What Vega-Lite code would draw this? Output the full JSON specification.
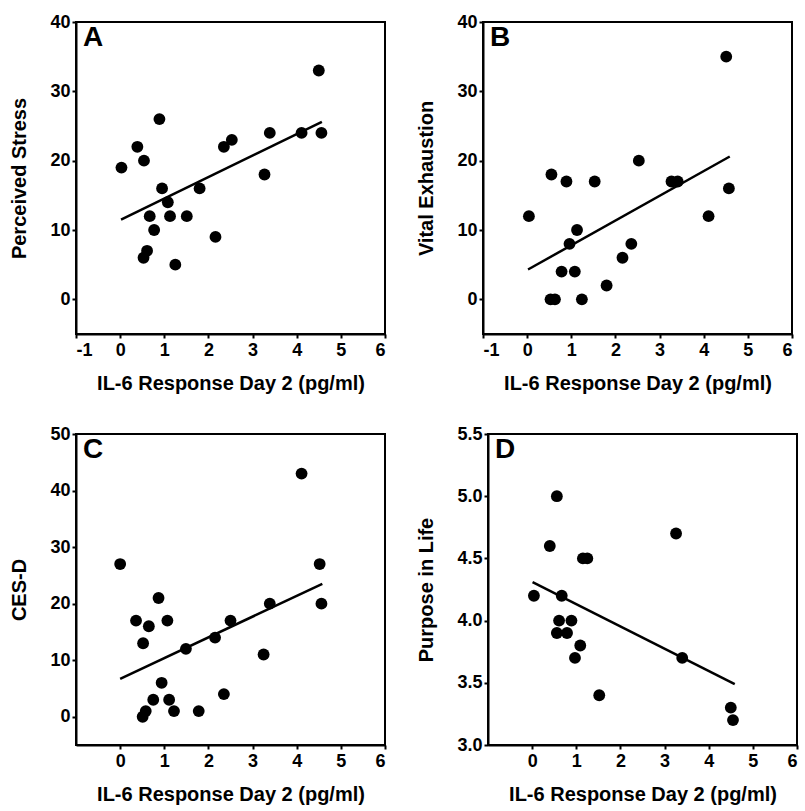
{
  "$schema": "https://vega.github.io/schema/vega-lite/v6.json",
  "padding": {"left": 8, "top": 12, "right": 4, "bottom": 4},
  "background": "white",
  "datasets": {
    "points": [
      {"panel": "A", "il6": 0.03, "score": 19},
      {"panel": "A", "il6": 0.39, "score": 22},
      {"panel": "A", "il6": 0.54, "score": 20},
      {"panel": "A", "il6": 0.89, "score": 26},
      {"panel": "A", "il6": 0.95, "score": 16},
      {"panel": "A", "il6": 1.08, "score": 14},
      {"panel": "A", "il6": 0.67, "score": 12},
      {"panel": "A", "il6": 1.13, "score": 12},
      {"panel": "A", "il6": 1.51, "score": 12},
      {"panel": "A", "il6": 1.80, "score": 16},
      {"panel": "A", "il6": 0.77, "score": 10},
      {"panel": "A", "il6": 0.61, "score": 7},
      {"panel": "A", "il6": 0.53, "score": 6},
      {"panel": "A", "il6": 1.25, "score": 5},
      {"panel": "A", "il6": 2.16, "score": 9},
      {"panel": "A", "il6": 2.35, "score": 22},
      {"panel": "A", "il6": 2.53, "score": 23},
      {"panel": "A", "il6": 3.27, "score": 18},
      {"panel": "A", "il6": 3.39, "score": 24},
      {"panel": "A", "il6": 4.11, "score": 24},
      {"panel": "A", "il6": 4.50, "score": 33},
      {"panel": "A", "il6": 4.56, "score": 24},
      {"panel": "B", "il6": 0.04, "score": 12},
      {"panel": "B", "il6": 0.55, "score": 18},
      {"panel": "B", "il6": 0.89, "score": 17},
      {"panel": "B", "il6": 1.53, "score": 17},
      {"panel": "B", "il6": 2.53, "score": 20},
      {"panel": "B", "il6": 0.96, "score": 8},
      {"panel": "B", "il6": 1.13, "score": 10},
      {"panel": "B", "il6": 0.78, "score": 4},
      {"panel": "B", "il6": 1.08, "score": 4},
      {"panel": "B", "il6": 0.53, "score": 0},
      {"panel": "B", "il6": 0.63, "score": 0},
      {"panel": "B", "il6": 1.24, "score": 0},
      {"panel": "B", "il6": 1.80, "score": 2},
      {"panel": "B", "il6": 2.16, "score": 6},
      {"panel": "B", "il6": 2.36, "score": 8},
      {"panel": "B", "il6": 3.27, "score": 17},
      {"panel": "B", "il6": 3.41, "score": 17},
      {"panel": "B", "il6": 4.11, "score": 12},
      {"panel": "B", "il6": 4.51, "score": 35},
      {"panel": "B", "il6": 4.57, "score": 16},
      {"panel": "C", "il6": 0.00, "score": 27},
      {"panel": "C", "il6": 0.36, "score": 17},
      {"panel": "C", "il6": 0.65, "score": 16},
      {"panel": "C", "il6": 0.52, "score": 13},
      {"panel": "C", "il6": 0.87, "score": 21},
      {"panel": "C", "il6": 1.07, "score": 17},
      {"panel": "C", "il6": 0.94, "score": 6},
      {"panel": "C", "il6": 0.75, "score": 3},
      {"panel": "C", "il6": 1.11, "score": 3},
      {"panel": "C", "il6": 0.58, "score": 1},
      {"panel": "C", "il6": 0.51, "score": 0},
      {"panel": "C", "il6": 1.22, "score": 1},
      {"panel": "C", "il6": 1.49, "score": 12},
      {"panel": "C", "il6": 1.78, "score": 1},
      {"panel": "C", "il6": 2.15, "score": 14},
      {"panel": "C", "il6": 2.35, "score": 4},
      {"panel": "C", "il6": 2.50, "score": 17},
      {"panel": "C", "il6": 3.25, "score": 11},
      {"panel": "C", "il6": 3.39, "score": 20},
      {"panel": "C", "il6": 4.11, "score": 43},
      {"panel": "C", "il6": 4.52, "score": 27},
      {"panel": "C", "il6": 4.56, "score": 20},
      {"panel": "D", "il6": 0.04, "score": 4.2},
      {"panel": "D", "il6": 0.40, "score": 4.6},
      {"panel": "D", "il6": 0.56, "score": 5.0},
      {"panel": "D", "il6": 0.67, "score": 4.2},
      {"panel": "D", "il6": 0.61, "score": 4.0},
      {"panel": "D", "il6": 0.56, "score": 3.9},
      {"panel": "D", "il6": 0.79, "score": 3.9},
      {"panel": "D", "il6": 0.89, "score": 4.0},
      {"panel": "D", "il6": 1.09, "score": 3.8},
      {"panel": "D", "il6": 0.97, "score": 3.7},
      {"panel": "D", "il6": 1.15, "score": 4.5},
      {"panel": "D", "il6": 1.25, "score": 4.5},
      {"panel": "D", "il6": 1.52, "score": 3.4},
      {"panel": "D", "il6": 3.26, "score": 4.7},
      {"panel": "D", "il6": 3.40, "score": 3.7},
      {"panel": "D", "il6": 4.50, "score": 3.3},
      {"panel": "D", "il6": 4.55, "score": 3.2}
    ],
    "fits": [
      {"panel": "A", "il6": 0.02, "score": 11.5},
      {"panel": "A", "il6": 4.57, "score": 25.6},
      {"panel": "B", "il6": 0.02, "score": 4.3},
      {"panel": "B", "il6": 4.59, "score": 20.6},
      {"panel": "C", "il6": 0.00, "score": 6.7},
      {"panel": "C", "il6": 4.58, "score": 23.5},
      {"panel": "D", "il6": 0.01, "score": 4.31},
      {"panel": "D", "il6": 4.59, "score": 3.49}
    ]
  },
  "vconcat": [
    {
      "hconcat": [
        {
          "width": 309, "height": 312,
          "title": {"text": "A"},
          "layer": [
            {"data": {"name": "points"}, "transform": [{"filter": "datum.panel === 'A'"}],
             "mark": {"type": "circle", "size": 140, "color": "black", "opacity": 1},
             "encoding": {
               "x": {"field": "il6", "type": "quantitative", "scale": {"domain": [-1, 6], "nice": false}, "axis": {"values": [-1, 0, 1, 2, 3, 4, 5, 6], "title": "IL-6 Response Day 2 (pg/ml)"}},
               "y": {"field": "score", "type": "quantitative", "scale": {"domain": [-5, 40], "nice": false, "zero": false}, "axis": {"values": [0, 10, 20, 30, 40], "title": "Perceived Stress"}}
             }},
            {"data": {"name": "fits"}, "transform": [{"filter": "datum.panel === 'A'"}],
             "mark": {"type": "line", "color": "black", "strokeWidth": 2.5},
             "encoding": {"x": {"field": "il6", "type": "quantitative"}, "y": {"field": "score", "type": "quantitative"}}}
          ]
        },
        {
          "width": 309, "height": 312,
          "title": {"text": "B"},
          "layer": [
            {"data": {"name": "points"}, "transform": [{"filter": "datum.panel === 'B'"}],
             "mark": {"type": "circle", "size": 140, "color": "black", "opacity": 1},
             "encoding": {
               "x": {"field": "il6", "type": "quantitative", "scale": {"domain": [-1, 6], "nice": false}, "axis": {"values": [-1, 0, 1, 2, 3, 4, 5, 6], "title": "IL-6 Response Day 2 (pg/ml)"}},
               "y": {"field": "score", "type": "quantitative", "scale": {"domain": [-5, 40], "nice": false, "zero": false}, "axis": {"values": [0, 10, 20, 30, 40], "title": "Vital Exhaustion"}}
             }},
            {"data": {"name": "fits"}, "transform": [{"filter": "datum.panel === 'B'"}],
             "mark": {"type": "line", "color": "black", "strokeWidth": 2.5},
             "encoding": {"x": {"field": "il6", "type": "quantitative"}, "y": {"field": "score", "type": "quantitative"}}}
          ]
        }
      ]
    },
    {
      "hconcat": [
        {
          "width": 309, "height": 311,
          "title": {"text": "C"},
          "layer": [
            {"data": {"name": "points"}, "transform": [{"filter": "datum.panel === 'C'"}],
             "mark": {"type": "circle", "size": 140, "color": "black", "opacity": 1},
             "encoding": {
               "x": {"field": "il6", "type": "quantitative", "scale": {"domain": [-1, 6], "nice": false}, "axis": {"values": [0, 1, 2, 3, 4, 5, 6], "title": "IL-6 Response Day 2 (pg/ml)"}},
               "y": {"field": "score", "type": "quantitative", "scale": {"domain": [-5, 50], "nice": false, "zero": false}, "axis": {"values": [0, 10, 20, 30, 40, 50], "title": "CES-D"}}
             }},
            {"data": {"name": "fits"}, "transform": [{"filter": "datum.panel === 'C'"}],
             "mark": {"type": "line", "color": "black", "strokeWidth": 2.5},
             "encoding": {"x": {"field": "il6", "type": "quantitative"}, "y": {"field": "score", "type": "quantitative"}}}
          ]
        },
        {
          "width": 309, "height": 311,
          "title": {"text": "D"},
          "layer": [
            {"data": {"name": "points"}, "transform": [{"filter": "datum.panel === 'D'"}],
             "mark": {"type": "circle", "size": 140, "color": "black", "opacity": 1},
             "encoding": {
               "x": {"field": "il6", "type": "quantitative", "scale": {"domain": [-1, 6], "nice": false}, "axis": {"values": [0, 1, 2, 3, 4, 5, 6], "title": "IL-6 Response Day 2 (pg/ml)"}},
               "y": {"field": "score", "type": "quantitative", "scale": {"domain": [3.0, 5.5], "nice": false, "zero": false}, "axis": {"values": [3.0, 3.5, 4.0, 4.5, 5.0, 5.5], "format": ".1f", "title": "Purpose in Life"}}
             }},
            {"data": {"name": "fits"}, "transform": [{"filter": "datum.panel === 'D'"}],
             "mark": {"type": "line", "color": "black", "strokeWidth": 2.5},
             "encoding": {"x": {"field": "il6", "type": "quantitative"}, "y": {"field": "score", "type": "quantitative"}}}
          ]
        }
      ]
    }
  ],
  "spacing": 30,
  "config": {
    "font": "Liberation Sans",
    "concat": {"spacing": 28},
    "view": {"stroke": "black", "strokeWidth": 2},
    "title": {"anchor": "start", "frame": "group", "orient": "top", "offset": -39, "dx": 7, "baseline": "top", "fontSize": 28, "fontWeight": "bold", "color": "black", "font": "Liberation Sans"},
    "axis": {
      "grid": false,
      "domainColor": "black", "domainWidth": 2,
      "tickColor": "black", "tickWidth": 2, "tickSize": 4,
      "labelColor": "black", "labelFontSize": 18, "labelFontWeight": "bold", "labelFont": "Liberation Sans",
      "labelExpr": "replace(datum.label, '\u2212', '-')",
      "titleColor": "black", "titleFontSize": 20, "titleFontWeight": "bold", "titleFont": "Liberation Sans"
    },
    "axisX": {"labelPadding": 3, "titlePadding": 14},
    "axisY": {"labelPadding": 2, "titlePadding": 20}
  }
}
